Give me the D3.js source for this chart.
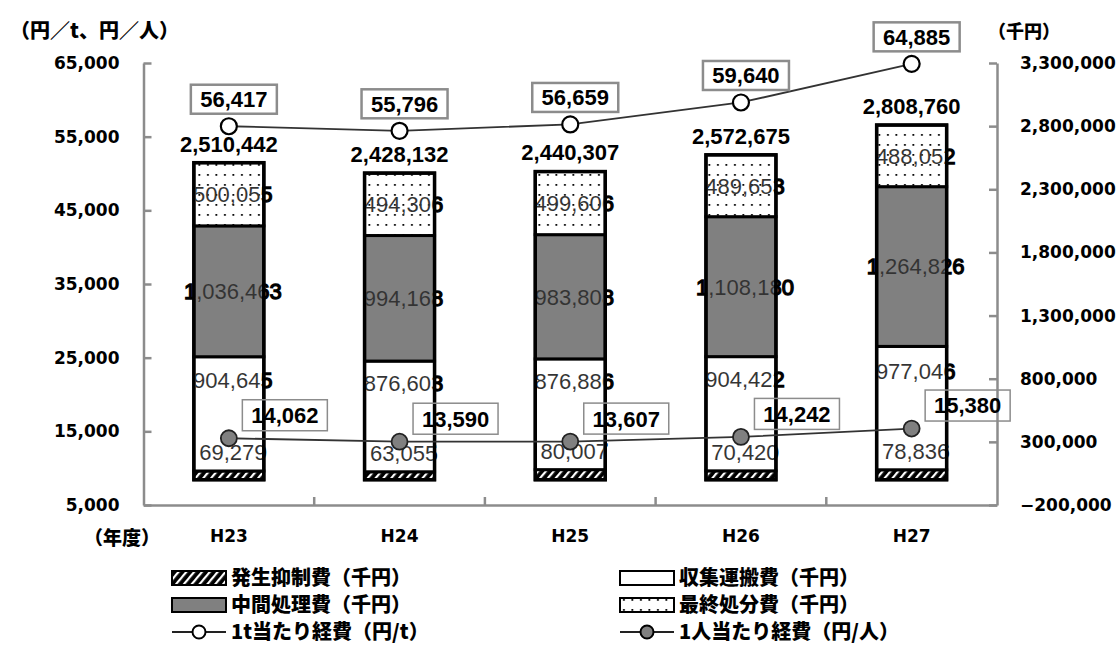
<!DOCTYPE html>
<html>
<head>
<meta charset="utf-8">
<script src="https://cdn.jsdelivr.net/npm/d3@7"></script>
<style>
  html, body { margin: 0; padding: 0; background: #fff; }
  svg { display: block; }
  .num { font-family: "Liberation Sans", Arial, sans-serif; }
  .tick text { font-family: "DejaVu Sans", sans-serif; font-weight: bold; font-size: 17px; fill: #000; }
  .jp { font-family: "Noto Sans CJK JP", sans-serif; font-weight: 900; fill: #000; }
</style>
</head>
<body>
<svg id="chart" width="1120" height="646"></svg>
<script>
// ごみ処理経費の推移（平成23〜27年度）
const categories   = ["H23", "H24", "H25", "H26", "H27"];
const suppression  = [69279, 63055, 80007, 70420, 78836];          // 発生抑制費(千円)
const collection   = [904645, 876603, 876886, 904422, 977046];     // 収集運搬費(千円)
const intermediate = [1036463, 994168, 983808, 1108180, 1264826];  // 中間処理費(千円)
const disposal     = [500055, 494306, 499606, 489653, 488052];     // 最終処分費(千円)
const totals       = [2510442, 2428132, 2440307, 2572675, 2808760];
const perTon       = [56417, 55796, 56659, 59640, 64885];          // 1t当たり経費(円/t)
const perPerson    = [14062, 13590, 13607, 14242, 15380];          // 1人当たり経費(円/人)
const leftTicks    = [5000, 15000, 25000, 35000, 45000, 55000, 65000];
const rightTicks   = [-200000, 300000, 800000, 1300000, 1800000, 2300000, 2800000, 3300000];
const seriesNames  = ["発生抑制費（千円）", "収集運搬費（千円）", "中間処理費（千円）", "最終処分費（千円）"];
const lineNames    = ["1t当たり経費（円/t）", "1人当たり経費（円/人）"];

const svg = d3.select("#chart");
const fmt = d3.format(",");

const plot = { left: 143.5, right: 997, top: 63, bottom: 505 };

const x = d3.scaleBand().domain(categories)
  .range([plot.left, plot.right]).paddingInner(0.59).paddingOuter(0.295);
const yL = d3.scaleLinear().domain([5000, 65000]).range([plot.bottom, plot.top]);
const yR = d3.scaleLinear().domain([-200000, 3300000]).range([plot.bottom, plot.top]);
const bw = x.bandwidth();

// patterns
const defs = svg.append("defs");
const hatch = defs.append("pattern").attr("id", "hatch").attr("patternUnits", "userSpaceOnUse")
  .attr("width", 6).attr("height", 6).attr("patternTransform", "rotate(40)");
hatch.append("rect").attr("width", 6).attr("height", 6).attr("fill", "#000");
hatch.append("rect").attr("x", 0).attr("y", 0).attr("width", 2.2).attr("height", 6).attr("fill", "#fff");
const dots = defs.append("pattern").attr("id", "dots").attr("patternUnits", "userSpaceOnUse")
  .attr("width", 8.5).attr("height", 10);
dots.append("rect").attr("width", 8.5).attr("height", 10).attr("fill", "#fff");
dots.append("rect").attr("x", 3).attr("y", 4).attr("width", 1.8).attr("height", 1.8).attr("fill", "#000");

const fills = ["url(#hatch)", "#fff", "#808080", "url(#dots)"];

const rows = categories.map((c, i) => ({
  cat: c, s0: suppression[i], s1: collection[i], s2: intermediate[i], s3: disposal[i]
}));
const keys = ["s0", "s1", "s2", "s3"];
const stacked = d3.stack().keys(keys)(rows);

// label paint per bar: regular grey inside the bar, heavy black outside it
categories.forEach((c, i) => {
  const x0 = x(c) + 1.5, x1 = x(c) + bw - 1.5;
  const gf = defs.append("linearGradient").attr("id", "lf" + i)
    .attr("gradientUnits", "userSpaceOnUse").attr("x1", x0).attr("x2", x1).attr("y1", 0).attr("y2", 0);
  gf.append("stop").attr("offset", 0).attr("stop-color", "#000");
  gf.append("stop").attr("offset", 0.001).attr("stop-color", "#333");
  gf.append("stop").attr("offset", 0.999).attr("stop-color", "#333");
  gf.append("stop").attr("offset", 1).attr("stop-color", "#000");
  const gs = defs.append("linearGradient").attr("id", "ls" + i)
    .attr("gradientUnits", "userSpaceOnUse").attr("x1", x0).attr("x2", x1).attr("y1", 0).attr("y2", 0);
  gs.append("stop").attr("offset", 0).attr("stop-color", "#000").attr("stop-opacity", 1);
  gs.append("stop").attr("offset", 0.001).attr("stop-color", "#000").attr("stop-opacity", 0);
  gs.append("stop").attr("offset", 0.999).attr("stop-color", "#000").attr("stop-opacity", 0);
  gs.append("stop").attr("offset", 1).attr("stop-color", "#000").attr("stop-opacity", 1);
});

// axes
const axisColor = "#8c8c8c";
const gL = svg.append("g").attr("transform", `translate(${plot.left},0)`)
  .call(d3.axisLeft(yL).tickValues(leftTicks).tickFormat(fmt).tickSizeInner(-8).tickSizeOuter(0).tickPadding(24));
const gR = svg.append("g").attr("transform", `translate(${plot.right},0)`)
  .call(d3.axisRight(yR).tickValues(rightTicks).tickFormat(fmt).tickSizeInner(-8).tickSizeOuter(0).tickPadding(23));
const gB = svg.append("g").attr("transform", `translate(0,${plot.bottom})`)
  .call(d3.axisBottom(x).tickSize(0).tickPadding(25));
[gL, gR, gB].forEach(g => {
  g.select(".domain").attr("stroke", axisColor).attr("stroke-width", 2.5);
  g.selectAll(".tick line").attr("stroke", axisColor).attr("stroke-width", 2.5);
});
gB.selectAll(".tick text").attr("font-size", 17);
// category boundary ticks on the bottom axis
const step = x.step();
svg.append("g").selectAll("line").data(d3.range(1, categories.length)).join("line")
  .attr("x1", i => plot.left + i * step).attr("x2", i => plot.left + i * step)
  .attr("y1", plot.bottom).attr("y2", plot.bottom - 8)
  .attr("stroke", axisColor).attr("stroke-width", 2.5);

// axis titles
svg.append("text").attr("class", "jp").attr("x", 10).attr("y", 38).attr("font-size", 20).text("（円／t、円／人）");
svg.append("text").attr("class", "jp").attr("x", 988).attr("y", 38).attr("font-size", 18).text("（千円）");
svg.append("text").attr("class", "jp").attr("x", 84).attr("y", 545).attr("font-size", 19).text("（年度）");

// segment label positions
function segLabelY(k, d) {
  const top = yR(d[1]), bot = yR(d[0]);
  if (k === 0) return top - 19;
  if (k === 1) return top + 0.2 * (bot - top);
  return (top + bot) / 2;
}

// bars
const bars = svg.append("g");
stacked.forEach((layer, k) => {
  bars.selectAll(null).data(layer).join("rect")
    .attr("x", d => x(d.data.cat)).attr("width", bw)
    .attr("y", d => yR(d[1])).attr("height", d => yR(d[0]) - yR(d[1]))
    .attr("fill", fills[k]).attr("stroke", "#000").attr("stroke-width", 3);
});
svg.append("g").selectAll("rect").data(rows).join("rect")
  .attr("x", d => x(d.cat)).attr("width", bw)
  .attr("y", (d, i) => yR(totals[i])).attr("height", (d, i) => yR(0) - yR(totals[i]))
  .attr("fill", "none").attr("stroke", "#000").attr("stroke-width", 3.5);

// segment value labels
const segLabels = svg.append("g");
stacked.forEach((layer, k) => {
  segLabels.selectAll(null).data(layer).join("text")
    .attr("class", "num")
    .attr("x", d => x(d.data.cat) + bw / 2 + 4)
    .attr("y", d => segLabelY(k, d))
    .attr("dy", "0.36em").attr("text-anchor", "middle")
    .attr("font-size", 22)
    .attr("fill", (d, i) => `url(#lf${i})`)
    .attr("stroke", (d, i) => `url(#ls${i})`).attr("stroke-width", 1.3)
    .text(d => fmt(d.data[keys[k]]));
});

// totals above bars
svg.append("g").selectAll("text").data(totals).join("text")
  .attr("class", "num")
  .attr("x", (d, i) => x(categories[i]) + bw / 2)
  .attr("y", d => yR(d) - 19).attr("dy", "0.36em")
  .attr("text-anchor", "middle").attr("font-size", 22).attr("font-weight", "bold").attr("fill", "#000")
  .text(fmt);

// lines
const cx = c => x(c) + bw / 2;
const line = d3.line().x(d => cx(d.c)).y(d => yL(d.v));
const tonPts = categories.map((c, i) => ({ c, v: perTon[i] }));
const perPts = categories.map((c, i) => ({ c, v: perPerson[i] }));
svg.append("path").datum(tonPts).attr("d", line).attr("fill", "none").attr("stroke", "#333").attr("stroke-width", 1.8);
svg.append("path").datum(perPts).attr("d", line).attr("fill", "none").attr("stroke", "#333").attr("stroke-width", 1.8);

svg.append("g").selectAll("circle").data(tonPts).join("circle")
  .attr("cx", d => cx(d.c)).attr("cy", d => yL(d.v)).attr("r", 8)
  .attr("fill", "#fff").attr("stroke", "#000").attr("stroke-width", 2.2);
svg.append("g").selectAll("circle").data(perPts).join("circle")
  .attr("cx", d => cx(d.c)).attr("cy", d => yL(d.v)).attr("r", 8)
  .attr("fill", "#808080").attr("stroke", "#222").attr("stroke-width", 1.8);

// boxed value labels
function boxed(pts, dx, dy, w, h, sw, fill) {
  const g = svg.append("g").selectAll("g").data(pts).join("g")
    .attr("transform", d => `translate(${cx(d.c) + dx},${yL(d.v) + dy})`);
  g.append("rect").attr("x", -w / 2).attr("y", -h / 2).attr("width", w).attr("height", h)
    .attr("fill", fill).attr("stroke", "#8c8c8c").attr("stroke-width", sw);
  g.append("text").attr("class", "num").attr("text-anchor", "middle").attr("dy", "0.36em")
    .attr("font-size", 22).attr("font-weight", "bold").attr("fill", "#000")
    .text(d => fmt(d.v));
}
boxed(tonPts, 5, -27, 86, 29, 2.5, "#fff");
boxed(perPts, 56, -23, 85, 31, 1.5, "none");

// legend
const legend = svg.append("g");
const legendRows = [
  { x: 172, y: 578, kind: "bar", fill: fills[0], label: seriesNames[0] },
  { x: 620, y: 578, kind: "bar", fill: fills[1], label: seriesNames[1] },
  { x: 172, y: 605, kind: "bar", fill: fills[2], label: seriesNames[2] },
  { x: 620, y: 605, kind: "bar", fill: fills[3], label: seriesNames[3] },
  { x: 172, y: 632, kind: "line", fill: "#fff", label: lineNames[0] },
  { x: 620, y: 632, kind: "line", fill: "#808080", label: lineNames[1] }
];
legendRows.forEach(r => {
  const g = legend.append("g").attr("transform", `translate(${r.x},${r.y})`);
  if (r.kind === "bar") {
    g.append("rect").attr("x", 0).attr("y", -7).attr("width", 54).attr("height", 14)
      .attr("fill", r.fill).attr("stroke", "#000").attr("stroke-width", 2);
  } else {
    g.append("line").attr("x1", 0).attr("x2", 54).attr("y1", 0).attr("y2", 0)
      .attr("stroke", "#222").attr("stroke-width", 2);
    g.append("circle").attr("cx", 27).attr("cy", 0).attr("r", 6.5)
      .attr("fill", r.fill).attr("stroke", "#000").attr("stroke-width", 2);
  }
  g.append("text").attr("class", "jp").attr("x", 59).attr("dy", "0.36em")
    .attr("font-size", 20).text(r.label);
});
</script>
</body>
</html>
